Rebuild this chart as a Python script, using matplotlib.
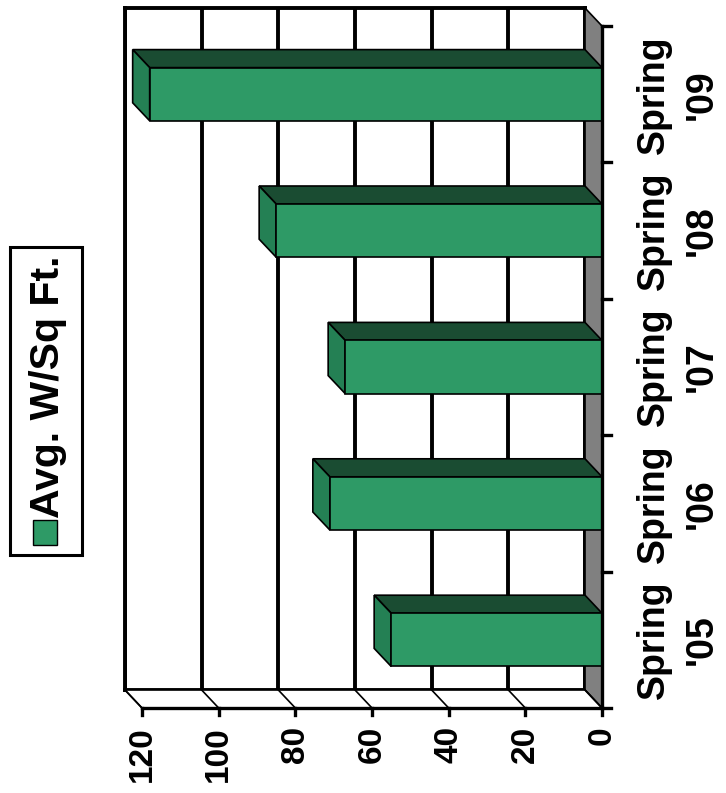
import matplotlib
matplotlib.use("Agg")
import matplotlib.pyplot as plt
from matplotlib.patches import Polygon, Rectangle
from matplotlib.lines import Line2D
from matplotlib.transforms import ScaledTranslation, IdentityTransform

# ---- data ----
seasons = ["Spring\n'05", "Spring\n'06", "Spring\n'07", "Spring\n'08", "Spring\n'09"]
avg_w_sqft = [55, 71, 67, 85, 118]
value_ticks = [0, 20, 40, 60, 80, 100, 120]
series_name = "Avg. W/Sq Ft."

# ---- styling ----
FRONT = "#2E9A66"
TOP = "#1A4C32"
SIDE = "#248054"
FLOOR = "#808080"
FONT = "Liberation Sans"
W, H, DPI = 726, 793, 100
DX, DY = 17, 18          # depth offset of the front plane, pixels
BAR_FRAC = 0.39          # bar thickness as fraction of a category band

fig = plt.figure(figsize=(W / DPI, H / DPI), dpi=DPI)
fig.patch.set_facecolor("white")

# back wall: value runs right-to-left, categories bottom-to-top
ax = fig.add_axes([125 / W, 1 - 690 / H, 460 / W, 682 / H])
n = len(seasons)
ax.set_xlim(max(value_ticks), 0)
ax.set_ylim(0, n)
ax.set_xticks(value_ticks)
ax.set_yticks([])
ax.tick_params(length=0, labelbottom=False, labelleft=False)
ax.set_axisbelow(True)
ax.grid(axis="x", color="black", lw=2.8)
for s in ax.spines.values():
    s.set_linewidth(2.8)
    s.set_zorder(0.6)

front = ax.transData + ScaledTranslation(DX / DPI, -DY / DPI, fig.dpi_scale_trans)


def back_px(x, y):
    return ax.transData.transform((x, y))


def front_px(x, y):
    return front.transform((x, y))


def poly(pts, fc, lw=1.2, z=3):
    p = Polygon(pts, closed=True, facecolor=fc, edgecolor="black", lw=lw,
                transform=IdentityTransform(), clip_on=False, zorder=z,
                joinstyle="miter")
    ax.add_artist(p)


vmax = max(value_ticks)

# floor (value 0 plane) on the right
poly([back_px(0, 0), back_px(0, n), front_px(0, n), front_px(0, 0)], FLOOR, lw=1.2, z=1)

# side wall strip along the bottom with receding gridlines
poly([back_px(vmax, 0), back_px(0, 0), front_px(0, 0), front_px(vmax, 0)], "white", lw=1.2, z=1)
for v in value_ticks:
    b = back_px(v, 0)
    f = front_px(v, 0)
    ax.add_artist(Line2D([b[0], f[0]], [b[1], f[1]], color="black", lw=1.2,
                         transform=IdentityTransform(), clip_on=False, zorder=1.1))

# bars as boxes spanning the full depth
for i, v in enumerate(avg_w_sqft):
    c = i + 0.5
    lo, hi = c - BAR_FRAC / 2, c + BAR_FRAC / 2
    # top face
    poly([back_px(v, hi), back_px(0, hi), front_px(0, hi), front_px(v, hi)], TOP, z=3)
    # end face at the value
    poly([back_px(v, hi), front_px(v, hi), front_px(v, lo), back_px(v, lo)], SIDE, z=3)
    # front face
    poly([front_px(v, lo), front_px(0, lo), front_px(0, hi), front_px(v, hi)], FRONT, z=3.2)

# front axes
ax.plot([vmax, 0], [0, 0], color="black", lw=2.4, transform=front, clip_on=False,
        zorder=4, solid_capstyle="projecting")
ax.plot([0, 0], [0, n], color="black", lw=2.4, transform=front, clip_on=False,
        zorder=4, solid_capstyle="projecting")

tick_down = front + ScaledTranslation(0, -7 / DPI, fig.dpi_scale_trans)
for v in value_ticks:
    a = front_px(v, 0)
    b = tick_down.transform((v, 0))
    ax.add_artist(Line2D([a[0], b[0]], [a[1], b[1]], color="black", lw=2.4,
                         transform=IdentityTransform(), clip_on=False, zorder=4))
tick_right = front + ScaledTranslation(9 / DPI, 0, fig.dpi_scale_trans)
for k in range(n + 1):
    a = front_px(0, k)
    b = tick_right.transform((0, k))
    ax.add_artist(Line2D([a[0], b[0]], [a[1], b[1]], color="black", lw=2.4,
                         transform=IdentityTransform(), clip_on=False, zorder=4))

# value labels below the front axis
lab_v = front + ScaledTranslation(0, -18 / DPI, fig.dpi_scale_trans)
for v in value_ticks:
    ax.text(v, 0, str(v), transform=lab_v, rotation=90, ha="center", va="top",
            fontsize=24, fontweight="bold", family=FONT, clip_on=False)

# category labels to the right of the front axis
lab_c = front + ScaledTranslation(76 / DPI, 0, fig.dpi_scale_trans)
for i, s in enumerate(seasons):
    ax.text(0, i + 0.5, s, transform=lab_c, rotation=90, ha="center", va="center",
            fontsize=27, fontweight="bold", family=FONT, multialignment="center",
            linespacing=1.4, clip_on=False)

# legend
fig.patches.append(Rectangle((10 / W, 1 - 555 / H), 72 / W, 308 / H, facecolor="white",
                             edgecolor="black", lw=2.2, transform=fig.transFigure))
fig.patches.append(Rectangle((33 / W, 1 - 545 / H), 24 / W, 25 / H, facecolor=FRONT,
                             edgecolor="black", lw=1.0, transform=fig.transFigure))
fig.text(48 / W, 1 - 518 / H, series_name, rotation=90, ha="center", va="bottom",
         fontsize=29.5, fontweight="bold", family=FONT)

fig.savefig("out.png", dpi=DPI)
